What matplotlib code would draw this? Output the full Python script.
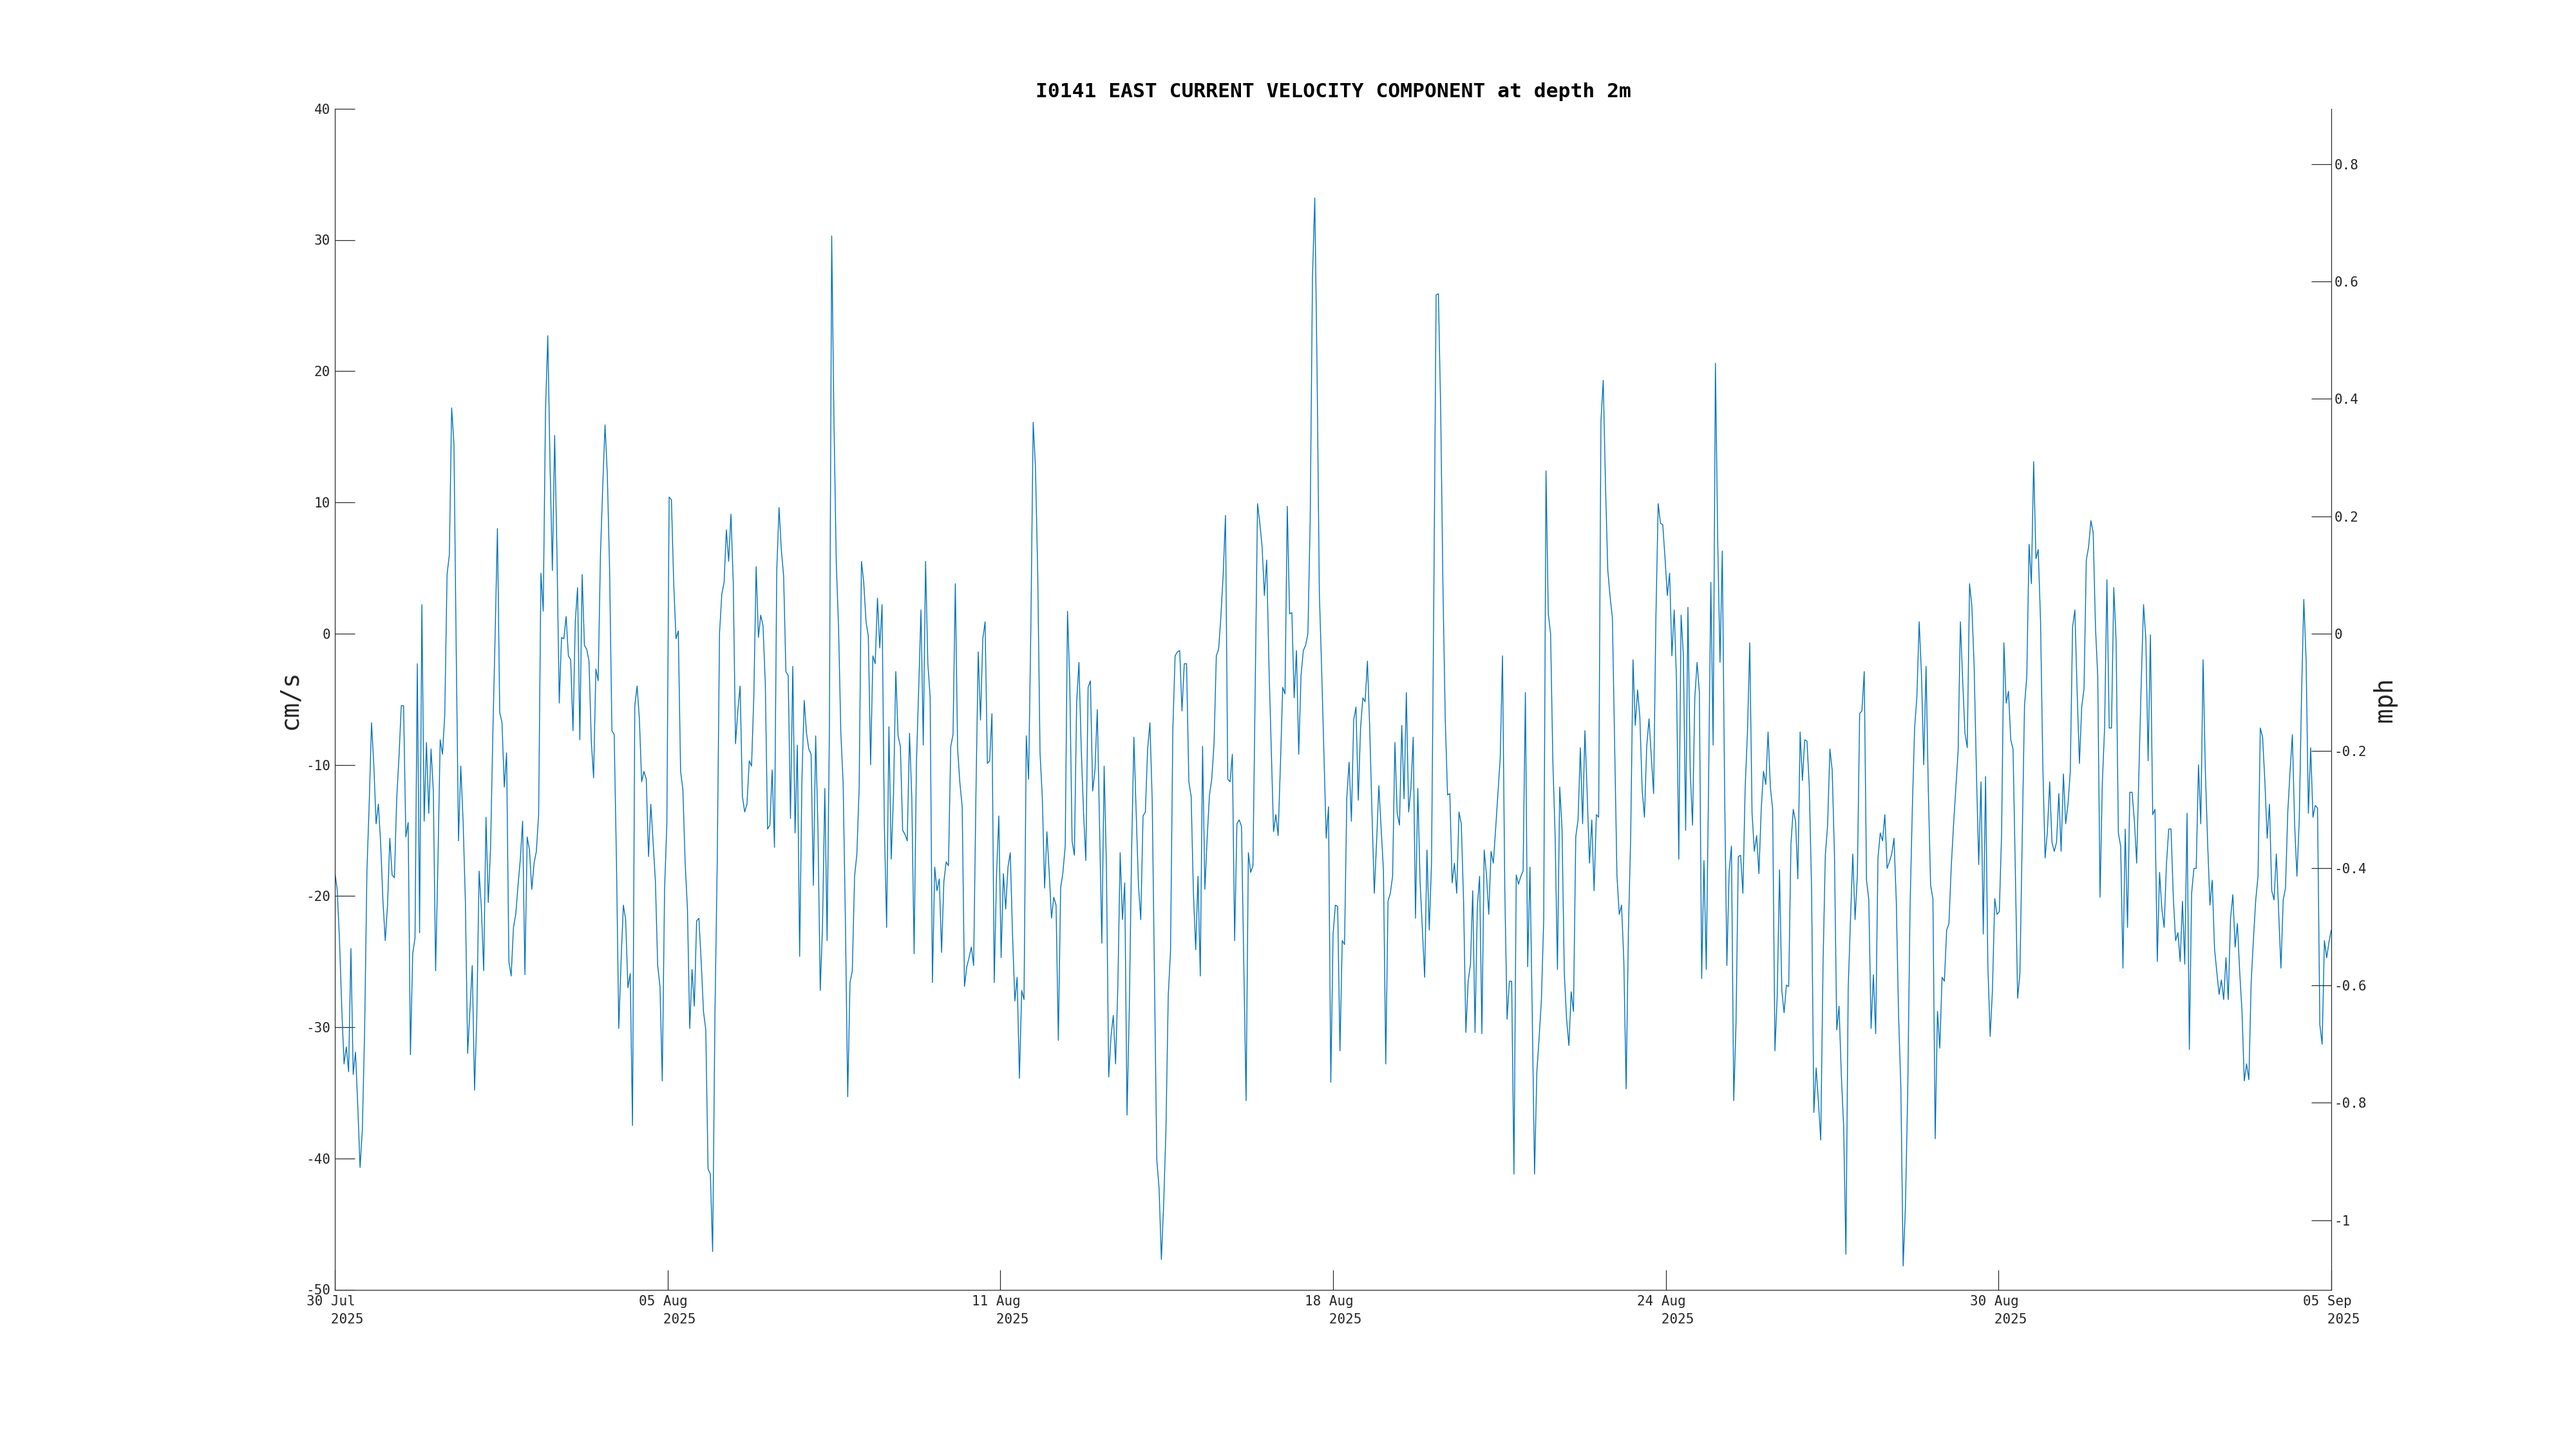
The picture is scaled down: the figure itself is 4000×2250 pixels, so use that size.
import numpy as np
import matplotlib
matplotlib.use("Agg")
import matplotlib.pyplot as plt

plt.rcParams['font.family'] = ['DejaVu Sans Mono']

title = "I0141 EAST CURRENT VELOCITY COMPONENT at depth 2m"
date_labels = ["30 Jul", "05 Aug", "11 Aug", "18 Aug", "24 Aug", "30 Aug", "05 Sep"]
year_label = "2025"
span_days = 37.0
cms_ticks = [-50, -40, -30, -20, -10, 0, 10, 20, 30, 40]
mph_ticks = [-1.0, -0.8, -0.6, -0.4, -0.2, 0.0, 0.2, 0.4, 0.6, 0.8]
mph_labels = ["-1", "-0.8", "-0.6", "-0.4", "-0.2", "0", "0.2", "0.4", "0.6", "0.8"]
CMS_TO_MPH = 0.0223694

# East velocity (cm/s), roughly hourly, 30 Jul -> 05 Sep 2025
seg1 = [-18.2, -19.5, -23.3, -28.5, -32.8, -31.5, -33.4, -24.0, -33.6, -31.9,
        -36.0, -40.7, -37.8, -30.2, -18.1, -12.9, -6.8, -10.0, -14.5, -13.0,
        -16.0, -20.4, -23.4, -20.7, -15.6, -18.4, -18.6, -12.6, -9.4, -5.5,
        -5.5, -15.5, -14.4, -32.1, -24.4, -23.2, -2.3, -22.8, 2.2, -14.3,
        -8.3, -13.7, -8.8, -12.0, -25.7, -17.5, -8.1, -9.2, -6.2, 4.5,
        6.0, 17.2, 14.5, -1.3, -15.8, -10.1, -14.3, -20.4, -32.0, -28.6,
        -25.3, -34.8, -29.1, -18.1, -21.0, -25.7, -14.0, -20.5, -16.3, -7.6,
        -0.1, 8.0, -6.0, -6.8, -11.7, -9.1, -25.0, -26.1, -22.4, -21.4,
        -19.2, -17.2, -14.3, -26.0, -15.5, -16.5, -19.5, -17.5, -16.6, -13.8,
        4.6, 1.7, 17.0, 22.7, 12.7, 4.8, 15.1, 6.2, -5.3, -0.3,
        -0.4, 1.3, -1.7, -2.0, -7.4, 0.9, 3.5, -8.1, 4.5, -0.9,
        -1.2, -2.1, -8.2, -11.0, -2.7, -3.6, 6.0, 11.2, 15.9, 12.1,
        4.8, -7.4, -7.7, -17.5, -30.1, -25.0, -20.7, -21.8, -27.0, -25.9,
        -37.5, -5.5, -4.0, -6.5, -11.3, -10.5, -11.1, -17.0, -13.0, -15.9,
        -18.9, -25.3, -26.9, -34.1, -19.5, -14.5, 10.4]
seg2 = [10.2, 3.8, -0.4, 0.2, -10.5, -11.9, -17.5, -21.0, -30.1, -25.6,
        -28.4, -21.9, -21.7, -25.0, -28.8, -30.2, -40.8, -41.2, -47.1, -29.1,
        -17.5, 0.0, 3.0, 3.9, 7.9, 5.5, 9.1, 3.9, -8.4, -5.9,
        -4.0, -12.4, -13.6, -13.0, -9.7, -10.1, -4.7, 5.1, -0.3, 1.4,
        0.6, -3.8, -14.9, -14.6, -10.4, -16.3, 4.8, 9.6, 6.4, 4.4,
        -2.9, -3.2, -14.1, -2.5, -15.2, -8.5, -24.6, -11.1, -5.1, -7.6,
        -8.8, -9.2, -19.2, -7.8, -14.9, -27.2, -22.2, -11.8, -23.4, -7.2,
        30.3, 16.1, 5.4, 0.5, -7.6, -11.4, -22.1, -35.3, -26.6, -25.7,
        -18.5, -16.8, -11.7, 5.5, 3.9, 0.9, -0.2, -10.0, -1.7, -2.3,
        2.7, -1.1, 2.2, -14.6, -22.4, -7.1, -17.2, -12.3, -2.9, -7.8,
        -8.6, -15.0, -15.3, -15.8, -7.6, -12.6, -24.4, -10.0, -4.2, 1.8,
        -8.5, 5.5, -2.3, -4.8, -26.6, -17.8, -19.6, -18.7, -24.3, -18.9,
        -17.4, -17.7, -8.6, -7.7, 3.8, -8.8, -11.4, -13.2, -26.9, -25.4,
        -24.7, -23.9, -25.3, -12.3, -1.4, -6.6, -0.4, 0.9, -9.9, -9.7,
        -6.1, -26.6, -18.4, -13.9, -24.7]
seg3 = [-18.3, -21.0, -17.8, -16.7, -23.0, -28.0, -26.2, -33.9, -27.2, -27.9,
        -7.8, -11.1, 0.5, 16.1, 12.7, 4.5, -9.1, -12.5, -19.4, -15.1,
        -18.2, -21.7, -20.1, -20.7, -31.0, -19.4, -18.2, -16.2, 1.7, -3.8,
        -15.8, -16.9, -5.2, -2.2, -8.8, -13.6, -17.3, -4.1, -3.6, -12.0,
        -10.4, -5.8, -14.6, -23.6, -10.1, -17.8, -33.8, -30.7, -29.1, -32.8,
        -26.8, -16.7, -21.8, -19.0, -36.7, -28.5, -16.6, -7.9, -13.7, -19.2,
        -21.8, -13.9, -13.6, -8.8, -6.8, -12.7, -26.2, -40.1, -42.3, -47.7,
        -43.5, -37.8, -27.6, -24.2, -7.4, -1.7, -1.4, -1.3, -5.9, -2.3,
        -2.3, -11.3, -12.4, -19.8, -24.1, -18.5, -26.1, -8.6, -19.5, -15.6,
        -12.3, -11.1, -8.4, -1.7, -1.2, 1.3, 4.5, 9.0, -11.1, -11.3,
        -9.2, -23.4, -14.5, -14.2, -14.7, -25.3, -35.6, -16.7, -18.2, -17.7,
        -3.9, 9.9, 8.4, 6.6, 2.9, 5.6, -2.5, -8.9, -15.1, -13.8,
        -15.4, -10.0, -4.1, -4.6, 9.7, 1.5, 1.6, -4.9, -1.3, -9.2,
        -3.2, -1.3, -0.9, 0.0, 8.6, 27.1, 33.2, 20.2, 3.1, -2.7,
        -9.1, -15.6, -13.2, -34.2, -22.9]
seg4 = [-20.7, -20.8, -31.8, -23.4, -23.7, -12.5, -9.8, -14.3, -6.6, -5.6,
        -12.7, -7.2, -4.9, -5.2, -2.1, -7.2, -13.7, -19.8, -15.9, -11.6,
        -14.9, -18.0, -32.8, -20.4, -19.8, -18.5, -8.3, -13.7, -14.6, -7.0,
        -12.6, -4.5, -13.6, -11.8, -7.9, -21.7, -11.8, -18.9, -22.6, -26.2,
        -16.5, -22.6, -17.5, 2.8, 25.8, 25.9, 17.0, 3.4, -6.6, -12.3,
        -12.2, -19.0, -17.5, -19.8, -13.6, -14.5, -20.4, -30.4, -26.5, -25.2,
        -19.6, -30.4, -20.8, -18.5, -30.5, -16.5, -18.4, -21.4, -16.6, -17.5,
        -14.9, -12.2, -9.5, -1.7, -19.5, -29.4, -26.5, -26.5, -41.2, -18.4,
        -19.1, -18.5, -18.1, -4.5, -25.4, -17.8, -29.1, -41.2, -33.4, -30.8,
        -27.9, -21.8, 12.4, 1.5, 0.0, -9.8, -15.5, -25.6, -11.7, -14.9,
        -25.9, -29.4, -31.4, -27.3, -28.8, -15.5, -14.2, -8.7, -14.5, -7.4,
        -12.3, -17.5, -14.2, -19.6, -13.8, -14.0, 16.2, 19.3, 11.2, 4.8,
        2.8, 1.2, -8.8, -18.5, -21.4, -20.7, -25.0, -34.7, -22.6, -15.4,
        -2.0, -7.0, -4.3, -6.4, -11.9, -14.0, -8.6, -6.5, -9.4, -12.2,
        1.2, 9.9, 8.4, 8.3]
seg5 = [5.7, 2.9, 4.6, -1.7, 1.8, -3.6, -17.2, 1.4, -1.6, -15.0,
        2.0, -10.5, -14.6, -4.9, -2.2, -4.5, -26.3, -17.3, -25.6, -11.7,
        3.9, -8.5, 20.6, 7.1, -2.2, 6.3, -11.7, -25.3, -18.1, -16.2,
        -35.6, -29.7, -17.0, -16.9, -19.8, -11.7, -7.5, -0.7, -13.7, -16.6,
        -15.4, -18.3, -13.4, -10.5, -11.5, -7.5, -11.7, -13.4, -31.8, -27.6,
        -18.0, -27.2, -28.9, -26.8, -26.9, -16.0, -13.4, -14.3, -18.7, -7.5,
        -11.2, -8.1, -8.2, -11.7, -19.5, -36.5, -33.1, -35.7, -38.6, -25.3,
        -16.9, -14.6, -8.8, -10.4, -16.9, -30.2, -28.4, -33.7, -37.5, -47.3,
        -27.0, -21.8, -16.8, -21.8, -18.4, -6.1, -5.9, -2.9, -18.8, -20.3,
        -30.1, -26.0, -30.5, -17.1, -15.2, -15.8, -13.8, -17.9, -17.4, -16.8,
        -15.6, -20.4, -29.1, -34.6, -48.2, -43.6, -34.9, -21.0, -13.4, -7.2,
        -4.8, 0.9, -3.1, -10.0, -2.5, -12.0, -19.2, -20.2, -38.5, -28.8,
        -31.6, -26.2, -26.5, -22.6, -22.1, -17.8, -14.6, -11.8, -9.0, 0.9,
        -3.6, -7.6, -8.7, 3.8, 2.1, -2.5, -10.5, -17.6, -11.3, -22.9,
        -10.9, -25.3, -30.7, -27.2, -20.2]
seg6 = [-21.4, -21.2, -15.2, -0.7, -5.3, -4.4, -8.1, -8.8, -18.1, -27.8,
        -25.9, -15.8, -5.5, -3.3, 6.8, 3.8, 13.1, 5.7, 6.4, 1.0,
        -10.0, -17.1, -15.1, -11.3, -15.9, -16.6, -15.9, -12.2, -16.6, -10.7,
        -14.5, -13.0, -10.5, 0.5, 1.8, -4.5, -9.9, -5.6, -4.2, 5.6,
        6.6, 8.6, 7.7, 0.5, -3.3, -20.1, -11.4, -7.1, 4.1, -7.2,
        -7.2, 3.5, -0.5, -15.2, -16.2, -25.5, -14.9, -22.4, -12.1, -12.1,
        -14.3, -17.5, -10.4, -3.7, 2.2, -0.4, -9.7, -0.1, -13.8, -13.4,
        -25.0, -18.2, -21.0, -22.4, -17.6, -14.9, -14.9, -20.1, -23.4, -22.8,
        -25.0, -20.4, -25.2, -13.7, -31.7, -19.8, -17.9, -17.9, -10.0, -14.5,
        -2.0, -10.5, -16.0, -20.7, -18.8, -24.0, -25.8, -27.5, -26.4, -27.9,
        -24.7, -27.9, -21.7, -19.9, -23.9, -22.1, -25.8, -28.8, -34.1, -32.8,
        -34.0, -26.6, -23.3, -20.3, -18.5, -7.2, -7.9, -11.3, -15.6, -13.0,
        -19.6, -20.3, -16.8, -21.2, -25.5, -20.3, -19.4, -13.6, -10.5, -7.7,
        -14.6, -18.5, -14.3, -4.8, 2.6, -2.0, -13.7, -8.7, -14.0, -13.1,
        -13.3, -29.8, -31.3, -23.4, -24.7, -23.5, -22.6]

east_cms = np.concatenate([seg1, seg2, seg3, seg4, seg5, seg6])
days = np.linspace(0.0, span_days, len(east_cms))

AX_COLOR = '#262626'
TICK_LEN = 31 / 250 * 72
SPINE_W = 0.35

fig = plt.figure(figsize=(16, 9), dpi=250)
ax = fig.add_axes([0.13, 0.11, 0.775, 0.815])
ax.plot(days, east_cms, color='#0072BD', lw=0.4)

ax.set_xlim(0, span_days)
ax.set_ylim(-50, 40)
ax.set_yticks(cms_ticks)
ax.set_yticklabels([str(v) for v in cms_ticks])
ax.set_xticks(np.linspace(0, span_days, len(date_labels)))
xl = ax.set_xticklabels([f"{d}\n   {year_label}" for d in date_labels])
for t in xl:
    t.set_multialignment('left')
    t.set_linespacing(1.5)

for s in ['top', 'right']:
    ax.spines[s].set_visible(False)
for s in ['left', 'bottom']:
    ax.spines[s].set_color(AX_COLOR)
    ax.spines[s].set_linewidth(SPINE_W)
ax.tick_params(axis='y', direction='in', length=TICK_LEN, width=SPINE_W,
               labelsize=6, pad=2, colors=AX_COLOR)
ax.tick_params(axis='x', direction='in', length=TICK_LEN, width=SPINE_W,
               labelsize=6, pad=2.5, colors=AX_COLOR)

ax2 = ax.twinx()
ax2.set_ylim(-50 * CMS_TO_MPH, 40 * CMS_TO_MPH)
ax2.set_yticks(mph_ticks)
ax2.set_yticklabels(mph_labels)
for s in ['top', 'left', 'bottom']:
    ax2.spines[s].set_visible(False)
ax2.spines['right'].set_color(AX_COLOR)
ax2.spines['right'].set_linewidth(SPINE_W)
ax2.tick_params(axis='y', direction='in', length=TICK_LEN, width=SPINE_W,
                labelsize=6, pad=1.3, colors=AX_COLOR)

ax.set_title(title, fontsize=9.0, fontweight='bold', pad=5.0, color='black')
fig.text(0.1125, 0.517, "cm/s", rotation=90, ha='center', va='center',
         fontsize=11.1, color=AX_COLOR)
fig.text(0.9258, 0.517, "mph", rotation=90, ha='center', va='center',
         fontsize=11.1, color=AX_COLOR)

fig.savefig("out.png", dpi=250)
